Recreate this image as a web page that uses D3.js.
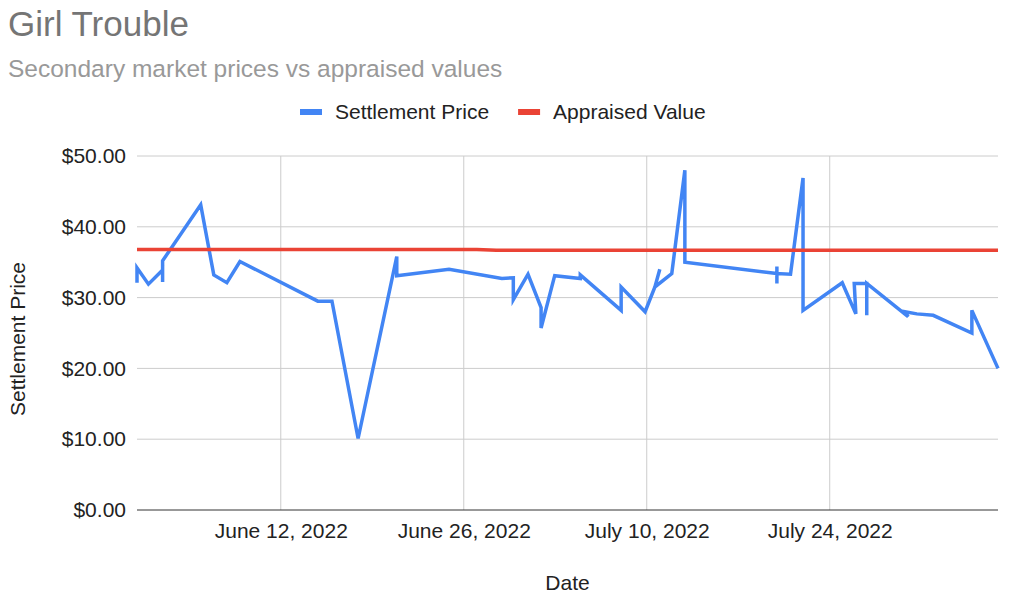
<!DOCTYPE html>
<html>
<head>
<meta charset="utf-8">
<script src="https://cdn.jsdelivr.net/npm/d3@7"></script>
<style>
  body { margin: 0; background: #fff; }
  svg { display: block; font-family: Arial, "Liberation Sans", sans-serif; }
</style>
</head>
<body>
<div id="chart"></div>
<script>
// settlement trades, in sheet order (unsorted, repeated timestamps make the vertical jumps)
const tradeTimes = [
  "2022-06-01T00:00", "2022-06-01T00:00", "2022-06-01T21:00", "2022-06-02T23:00",
  "2022-06-02T23:00", "2022-06-02T23:00", "2022-06-05T21:00", "2022-06-06T21:00",
  "2022-06-07T21:00", "2022-06-08T21:00", "2022-06-14T20:00", "2022-06-15T22:00",
  "2022-06-17T22:00", "2022-06-20T21:00", "2022-06-20T21:00", "2022-06-24T21:00",
  "2022-06-28T22:00", "2022-06-29T19:00", "2022-06-29T19:00", "2022-06-30T22:00",
  "2022-07-01T22:00", "2022-07-01T22:00", "2022-07-02T23:00", "2022-07-04T22:00",
  "2022-07-04T22:00", "2022-07-08T01:00", "2022-07-08T01:00", "2022-07-09T21:00",
  "2022-07-10T15:00", "2022-07-11T00:00", "2022-07-10T15:00", "2022-07-11T22:00",
  "2022-07-12T22:00", "2022-07-12T22:00", "2022-07-19T23:00", "2022-07-19T23:00",
  "2022-07-19T23:00", "2022-07-19T23:00", "2022-07-21T00:00", "2022-07-21T23:00",
  "2022-07-21T23:00", "2022-07-24T23:00", "2022-07-26T00:00", "2022-07-25T21:00",
  "2022-07-26T20:00", "2022-07-26T20:00", "2022-07-26T20:00", "2022-07-30T00:00",
  "2022-07-29T18:00", "2022-07-30T16:00", "2022-07-31T22:00", "2022-08-03T21:00",
  "2022-08-03T21:00", "2022-08-05T21:00"
];
const settlementPrices = [
  32.1, 34.2, 31.9, 33.9,
  32.2, 35.2, 43.1, 33.2,
  32.1, 35.1, 29.5, 29.5,
  10.1, 35.8, 33.1, 34.0,
  32.7, 32.8, 29.7, 33.3,
  28.6, 25.7, 33.1, 32.7,
  33.2, 28.2, 31.5, 28.0,
  31.5, 34.0, 31.5, 33.4,
  48.0, 35.0, 33.4, 34.4,
  32.0, 33.4, 33.3, 46.9,
  28.2, 32.1, 27.7, 32.0,
  32.0, 27.5, 32.0, 27.3,
  28.0, 27.7, 27.5, 25.0,
  28.2, 20.0
];

const appraisedTimes = ["2022-06-01T00:00", "2022-06-27T00:00", "2022-06-28T12:00", "2022-08-05T21:00"];
const appraisedValues = [36.8, 36.8, 36.7, 36.7];

const yTicks = [0, 10, 20, 30, 40, 50];
const xTicks = ["2022-06-12", "2022-06-26", "2022-07-10", "2022-07-24"];

const seriesNames = ["Settlement Price", "Appraised Value"];
const seriesColors = ["#4285f4", "#ea4335"];

const width = 1024, height = 603;
const margin = {top: 156, right: 26, bottom: 93, left: 137};
const labelSize = 21;

const parseTime = d3.timeParse("%Y-%m-%dT%H:%M");
const parseDay = d3.timeParse("%Y-%m-%d");

const trades = tradeTimes.map((t, i) => ({date: parseTime(t), value: settlementPrices[i]}));
const appraised = appraisedTimes.map((t, i) => ({date: parseTime(t), value: appraisedValues[i]}));

const svg = d3.select("#chart").append("svg")
    .attr("width", width)
    .attr("height", height);

const x = d3.scaleTime()
    .domain(d3.extent(trades, d => d.date))
    .range([margin.left, width - margin.right]);
const y = d3.scaleLinear()
    .domain([0, 50])
    .range([height - margin.bottom, margin.top]);

// titles
svg.append("text")
    .attr("x", 8).attr("y", 36)
    .attr("font-size", 35).attr("fill", "#757575")
    .text("Girl Trouble");
svg.append("text")
    .attr("x", 8).attr("y", 77)
    .attr("font-size", 24.5).attr("fill", "#999")
    .text("Secondary market prices vs appraised values");

// gridlines
svg.append("g").selectAll("line")
    .data(yTicks.filter(d => d !== 0))
    .enter().append("line")
    .attr("x1", margin.left).attr("x2", width - margin.right)
    .attr("y1", d => y(d)).attr("y2", d => y(d))
    .attr("stroke", "#ccc");
svg.append("g").selectAll("line")
    .data(xTicks.map(parseDay))
    .enter().append("line")
    .attr("x1", d => x(d)).attr("x2", d => x(d))
    .attr("y1", y(50)).attr("y2", y(0))
    .attr("stroke", "#ccc");

// y axis labels
const yAxis = svg.append("g")
    .attr("transform", `translate(${margin.left},0)`)
    .call(d3.axisLeft(y).tickValues(yTicks).tickSize(0).tickPadding(11)
        .tickFormat(d => "$" + d3.format(".2f")(d)));
yAxis.select(".domain").remove();
yAxis.selectAll("text").attr("font-size", labelSize).attr("fill", "#222")
    .attr("font-family", "Arial, 'Liberation Sans', sans-serif");

// x axis labels
const xAxis = svg.append("g")
    .attr("transform", `translate(0,${y(0)})`)
    .call(d3.axisBottom(x).tickValues(xTicks.map(parseDay)).tickSize(0).tickPadding(13)
        .tickFormat(d3.timeFormat("%B %-d, %Y")));
xAxis.select(".domain").remove();
xAxis.selectAll("text").attr("font-size", labelSize).attr("fill", "#222")
    .attr("font-family", "Arial, 'Liberation Sans', sans-serif");

// series
const line = d3.line().x(d => x(d.date)).y(d => y(d.value));
svg.append("path")
    .datum(trades)
    .attr("fill", "none")
    .attr("stroke", seriesColors[0])
    .attr("stroke-width", 3.5)
    .attr("d", line);
svg.append("path")
    .datum(appraised)
    .attr("fill", "none")
    .attr("stroke", seriesColors[1])
    .attr("stroke-width", 3.5)
    .attr("d", line);

// baseline
svg.append("line")
    .attr("x1", margin.left).attr("x2", width - margin.right)
    .attr("y1", y(0)).attr("y2", y(0))
    .attr("stroke", "#333");

// axis titles
svg.append("text")
    .attr("x", (margin.left + width - margin.right) / 2).attr("y", 590)
    .attr("text-anchor", "middle").attr("font-size", labelSize).attr("fill", "#222")
    .text("Date");
svg.append("text")
    .attr("transform", `translate(25,${(y(0) + y(50)) / 2 + 6}) rotate(-90)`)
    .attr("text-anchor", "middle").attr("font-size", labelSize).attr("fill", "#222")
    .text("Settlement Price");

// legend
const legend = svg.append("g");
let lx = 300;
seriesNames.forEach((name, i) => {
    legend.append("rect")
        .attr("x", lx).attr("y", 109)
        .attr("width", 22).attr("height", 6)
        .attr("fill", seriesColors[i]);
    const t = legend.append("text")
        .attr("x", lx + 35).attr("y", 119)
        .attr("font-size", labelSize).attr("fill", "#222")
        .text(name);
    lx += 35 + t.node().getComputedTextLength() + 29;
});
</script>
</body>
</html>
